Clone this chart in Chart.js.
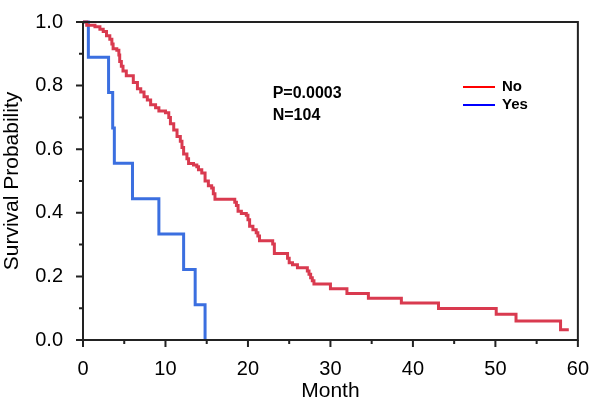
<!DOCTYPE html>
<html>
<head>
<meta charset="utf-8">
<script src="https://cdn.jsdelivr.net/npm/chart.js@4.4.1/dist/chart.umd.min.js"></script>
<style>
  html, body { margin: 0; padding: 0; background: #fff; }
  #wrap { width: 600px; height: 404px; position: relative; }
</style>
</head>
<body>
<div id="wrap"><canvas id="c" width="600" height="404"></canvas></div>
<script>
// ---- Data ----
const seriesNames = ["No", "Yes"];
const noMonths = [0, 0.45, 1.45, 2.05, 2.45, 2.85, 3.25, 3.5, 3.65, 4.1, 4.35, 4.45, 4.65, 4.85, 5.25, 6.1, 6.6, 7.0, 7.4, 7.8, 8.2, 8.8, 9.2, 10.0, 10.4, 10.6, 11.0, 11.4, 11.8, 12.0, 12.2, 12.6, 12.8, 13.4, 13.8, 14.0, 14.4, 14.8, 15.2, 15.6, 15.8, 16.0, 18.4, 18.6, 18.8, 19.2, 19.8, 20.0, 20.2, 20.6, 21.0, 21.2, 21.4, 23.0, 23.2, 24.8, 25.0, 25.4, 26.0, 27.2, 27.4, 27.6, 27.8, 28.0, 30.0, 32.0, 34.6, 38.6, 43.1, 50.1, 52.5, 57.9, 58.9];
const noSurv = [1, 0.99, 0.985, 0.977, 0.97, 0.957, 0.946, 0.931, 0.916, 0.911, 0.896, 0.876, 0.861, 0.846, 0.831, 0.81, 0.79, 0.78, 0.765, 0.755, 0.74, 0.73, 0.72, 0.715, 0.70, 0.68, 0.66, 0.64, 0.625, 0.605, 0.585, 0.57, 0.555, 0.55, 0.545, 0.535, 0.525, 0.50, 0.485, 0.478, 0.46, 0.443, 0.433, 0.423, 0.405, 0.398, 0.392, 0.378, 0.358, 0.347, 0.337, 0.327, 0.312, 0.302, 0.272, 0.257, 0.243, 0.237, 0.227, 0.217, 0.207, 0.196, 0.186, 0.176, 0.161, 0.146, 0.131, 0.116, 0.099, 0.081, 0.06, 0.032, 0.032];
const yesMonths = [0, 0.65, 3.1, 3.6, 3.8, 6.0, 9.2, 12.2, 13.6, 14.8];
const yesSurv = [1, 0.889, 0.778, 0.667, 0.556, 0.444, 0.333, 0.222, 0.111, 0];
const xMajorTicks = [0, 10, 20, 30, 40, 50, 60];
const xMinorTicks = [5, 15, 25, 35, 45, 55];
const yMajorTicks = [0, 0.2, 0.4, 0.6, 0.8, 1.0];
const yMinorTicks = [0.1, 0.3, 0.5, 0.7, 0.9];
const annotationLines = ["P=0.0003", "N=104"];
const xTitle = "Month";
const yTitle = "Survival Probability";

const FONT = "'Liberation Sans', Arial, Helvetica, sans-serif";
const lineColors = ["#d93a4f", "#3b6fe0"];
const legendColors = ["#ff0000", "#0000ff"];

function toPoints(xs, ys) { return xs.map((x, i) => ({ x: x, y: ys[i] })); }

const decorPlugin = {
  id: 'decor',
  afterDraw(chart) {
    const ctx = chart.ctx;
    const xs = chart.scales.x, ys = chart.scales.y;
    const a = chart.chartArea;
    ctx.save();
    ctx.strokeStyle = '#222';
    ctx.lineWidth = 2;
    ctx.lineCap = 'butt';
    // frame
    ctx.beginPath();
    ctx.moveTo(a.left, a.top); ctx.lineTo(a.right, a.top); ctx.lineTo(a.right, a.bottom);
    ctx.moveTo(a.left, a.top - 1); ctx.lineTo(a.left, a.bottom); ctx.lineTo(a.right + 1, a.bottom);
    ctx.stroke();
    // ticks
    ctx.beginPath();
    xMajorTicks.forEach(v => { const p = xs.getPixelForValue(v); ctx.moveTo(p, a.bottom); ctx.lineTo(p, a.bottom + 7); });
    xMinorTicks.forEach(v => { const p = xs.getPixelForValue(v); ctx.moveTo(p, a.bottom); ctx.lineTo(p, a.bottom + 4); });
    yMajorTicks.forEach(v => { const p = ys.getPixelForValue(v); ctx.moveTo(a.left, p); ctx.lineTo(a.left - 7, p); });
    yMinorTicks.forEach(v => { const p = ys.getPixelForValue(v); ctx.moveTo(a.left, p); ctx.lineTo(a.left - 4, p); });
    ctx.stroke();
    // annotation
    ctx.fillStyle = '#000';
    ctx.font = "bold 16px " + FONT;
    ctx.textBaseline = 'middle';
    ctx.textAlign = 'left';
    const ax = xs.getPixelForValue(23.0);
    ctx.fillText(annotationLines[0], ax, 94);
    ctx.fillText(annotationLines[1], ax, 116);
    // legend
    ctx.font = "bold 15px " + FONT;
    const lx0 = 463, lx1 = 495;
    const lys = [87, 105];
    seriesNames.forEach((name, i) => {
      ctx.strokeStyle = legendColors[i];
      ctx.lineWidth = 2;
      ctx.beginPath(); ctx.moveTo(lx0, lys[i]); ctx.lineTo(lx1, lys[i]); ctx.stroke();
      ctx.fillStyle = '#000';
      ctx.fillText(name, 502, lys[i]);
    });
    ctx.restore();
  }
};

new Chart(document.getElementById('c'), {
  type: 'line',
  data: {
    datasets: [
      { label: seriesNames[0], data: toPoints(noMonths, noSurv), borderColor: lineColors[0], borderWidth: 3, stepped: 'before', pointRadius: 0, fill: false, clip: false },
      { label: seriesNames[1], data: toPoints(yesMonths, yesSurv), borderColor: lineColors[1], borderWidth: 3, stepped: 'before', pointRadius: 0, fill: false, clip: false }
    ]
  },
  options: {
    responsive: false,
    animation: false,
    layout: { padding: { left: 0, right: 15, top: 9, bottom: 0 } },
    plugins: { legend: { display: false }, tooltip: { enabled: false } },
    scales: {
      x: {
        type: 'linear', min: 0, max: 60,
        grid: { display: false }, border: { display: false },
        ticks: { stepSize: 10, padding: 11, color: '#000', font: { family: FONT, size: 20, lineHeight: 1 }, maxRotation: 0, autoSkip: false },
        title: { display: true, text: xTitle, color: '#000', font: { family: FONT, size: 21, lineHeight: 1 }, padding: { top: 0, bottom: 2 } },
        afterFit(s) { s.height = 64; }
      },
      y: {
        type: 'linear', min: 0, max: 1,
        grid: { display: false }, border: { display: false },
        ticks: { stepSize: 0.2, padding: 12, color: '#000', font: { family: FONT, size: 20, lineHeight: 1 }, callback: v => Number(v).toFixed(1) },
        title: { display: true, text: yTitle, color: '#000', font: { family: FONT, size: 21, lineHeight: 1 }, padding: { top: 2, bottom: 0 } },
        afterFit(s) { s.width = 83; }
      }
    }
  },
  plugins: [decorPlugin]
});
</script>
</body>
</html>
